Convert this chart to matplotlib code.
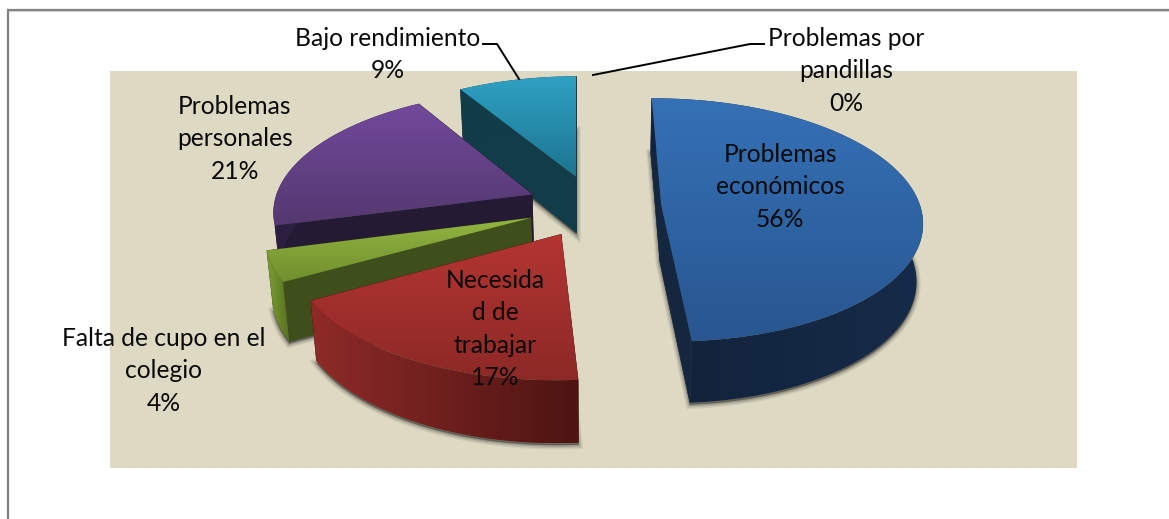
import numpy as np
import matplotlib
matplotlib.use('Agg')
import matplotlib.pyplot as plt
from matplotlib.colors import to_rgb
from matplotlib.patches import Polygon, Rectangle

# Slice sizes as measured from the drawn slices. They do not agree with the printed labels
categories = ['Problemas económicos', 'Necesidad de trabajar', 'Falta de cupo en el colegio',
              'Problemas personales', 'Bajo rendimiento', 'Problemas por pandillas']
values = [49, 18, 4, 20.5, 8.5, 0]
shown_percent = ['56%', '17%', '4%', '21%', '9%', '0%']

# Label lines as wrapped in the picture, with the center of the first line
label_lines = [['Problemas', 'económicos'], ['Necesida', 'd de', 'trabajar'],
               ['Falta de cupo en el', 'colegio'], ['Problemas', 'personales'],
               ['Bajo rendimiento'], ['Problemas por', 'pandillas']]
label_pos = [(780, 154), (495, 280), (164, 338), (235, 106), (388, 38), (846, 38)]

# top start, top end, radial side, rim left, rim right
palette = [('#3571b6', '#285690', '#14273f', '#12233a', '#162b49'),
           ('#b43532', '#8c2926', '#4d1412', '#8e2b28', '#4d1412'),
           ('#93b641', '#6f8f2e', '#3f4f1b', '#7d9e36', '#55701f'),
           ('#72499c', '#54386f', '#241a33', '#2c1f40', '#241a33'),
           ('#2fa1c3', '#1d7490', '#123c48', '#123c48', '#123c48')]

# Projection settings, in pixels
X0, Y0 = 594, 206
A, B = 259, 120
K = 0.125
DEPTH = 57
EXPLODE = 0.26
START = -0.5


def project(u, v):
    s = 1 / (1 + K * v)
    return X0 + A * u * s, Y0 - B * v * s


def lower(x, y, v):
    # bottom edge of the slab sits under the top and a bit toward the middle
    s = 1 / (1 + K * v)
    return X0 + (x - X0) * 0.98, y + DEPTH * s ** 0.6


def side(ax, xa, ya, va, xb, yb, vb, color, z):
    xc, yc = lower(xb, yb, vb)
    xd, yd = lower(xa, ya, va)
    ax.add_patch(Polygon([(xa, ya), (xb, yb), (xc, yc), (xd, yd)], closed=True,
                         fc=color, ec=color, lw=0.4, zorder=z))


def gradient_fill(ax, poly, c0, c1, horizontal, z):
    # a small image clipped to the polygon
    grad = np.linspace(to_rgb(c0), to_rgb(c1), 256)
    grad = grad[None, :, :] if horizontal else grad[:, None, :]
    clip = Polygon(poly, closed=True, transform=ax.transData, fc='none', ec='none')
    ax.add_patch(clip)
    im = ax.imshow(grad, extent=(poly[:, 0].min(), poly[:, 0].max(), poly[:, 1].max(), poly[:, 1].min()),
                   aspect='auto', zorder=z, interpolation='bilinear')
    im.set_clip_path(clip)


fig = plt.figure(figsize=(11.69, 5.19), dpi=100)
ax = fig.add_axes([0, 0, 1, 1])
ax.set_xlim(0, 1169)
ax.set_ylim(519, 0)
ax.axis('off')

# frame and plot area
ax.plot([1169, 7.5, 7.5], [10, 10, 519], color='#808080', lw=1.6, zorder=1, solid_joinstyle='miter')
ax.plot([9, 1169], [11, 11], color='#d0d0d0', lw=0.8, zorder=1)
ax.add_patch(Rectangle((110, 71), 967, 397, fc='#ddd9c3', ec='none', zorder=1))

# slice angles, clockwise from the top
edges = START + np.cumsum([0] + values) * 3.6
draw_order = [4, 3, 2, 1, 0]
z = 2
for i in draw_order:
    t0, t1 = np.radians(edges[i]), np.radians(edges[i + 1])
    mid = (t0 + t1) / 2
    cu, cv = EXPLODE * np.sin(mid), EXPLODE * np.cos(mid)
    t = np.linspace(t0, t1, 80)
    u, v = cu + np.sin(t), cv + np.cos(t)
    px, py = project(u, v)
    ax_, ay_ = project(cu, cv)
    bx, by = lower(px, py, v)
    top_poly = np.column_stack([np.r_[ax_, px], np.r_[ay_, py]])
    c_top0, c_top1, c_rad, c_rim0, c_rim1 = palette[i]

    # soft shadow around the bottom of the slab
    acx, acy = lower(ax_, ay_, cv)
    bottom_poly = np.column_stack([np.r_[acx, bx], np.r_[acy + 2, by + 2]])
    for w, a in [(6, 0.07), (4, 0.10), (2, 0.14)]:
        ax.add_patch(Polygon(bottom_poly, closed=True, fc=(0, 0, 0, 0.15), ec=(0, 0, 0, a), lw=w, zorder=z))
    z += 1

    # radial sides
    side(ax, ax_, ay_, cv, px[0], py[0], v[0], c_rad, z)
    side(ax, ax_, ay_, cv, px[-1], py[-1], v[-1], c_rad, z)
    z += 1

    # outer rim, shaded from left to right
    rim_poly = np.column_stack([np.r_[px, bx[::-1]], np.r_[py, by[::-1]]])
    gradient_fill(ax, rim_poly, c_rim0, c_rim1, True, z)
    z += 1

    # top face with a vertical gradient
    gradient_fill(ax, top_poly, c_top0, c_top1, False, z)
    z += 1

ax.set_xlim(0, 1169)
ax.set_ylim(519, 0)

# leader lines
ax.plot([483, 497, 519], [44, 44, 79], color='black', lw=1.4, zorder=50)
ax.plot([593, 750, 764], [75, 44, 44], color='black', lw=1.4, zorder=50)

# labels
for lines, pct, (lx, ly) in zip(label_lines, shown_percent, label_pos):
    for n, line in enumerate(lines + [pct]):
        ax.text(lx, ly + n * 32.6, line, family='Lato', fontsize=17.7, color='#0a0a0a',
                ha='center', va='center', zorder=60)

fig.savefig('out.png', dpi=100)
